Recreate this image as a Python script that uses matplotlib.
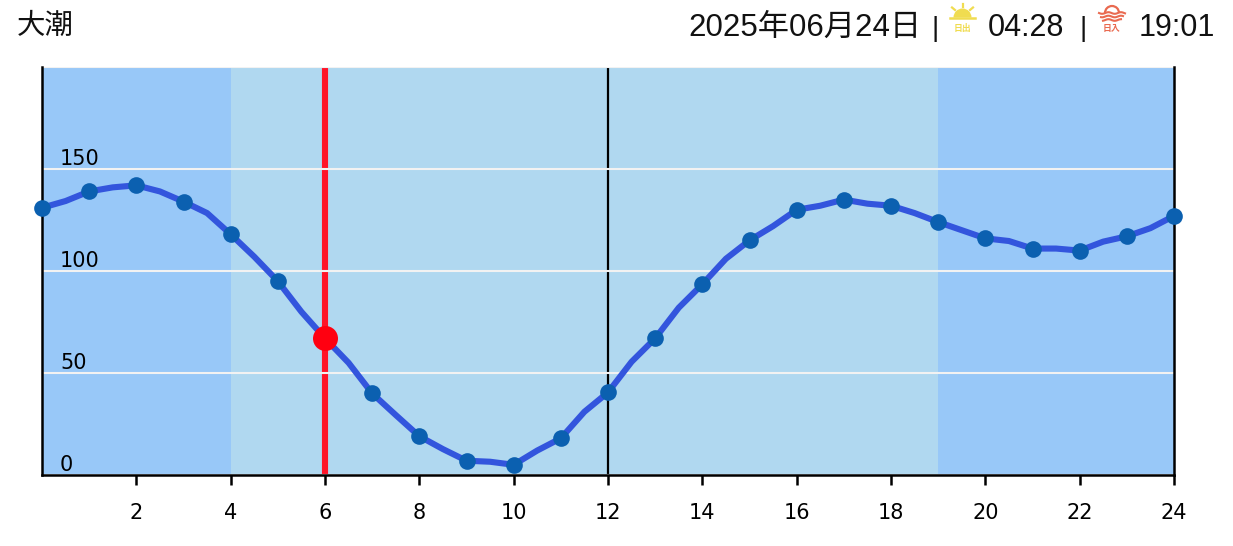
import numpy as np
import matplotlib
matplotlib.use("Agg")
import matplotlib.pyplot as plt
from matplotlib.patches import Wedge, Arc

W, H = 1233, 546
hours = [h / 2 for h in range(49)]
tide = [131, 134.3, 139, 141, 142, 139, 134, 128.4, 118, 107, 95, 80, 67, 55, 40, 29.4,
        19, 12.7, 7, 6.5, 5, 12, 18, 31, 40.5, 55.5, 67, 82, 93.5, 106, 115, 122,
        130, 132, 135, 133, 132, 128.4, 124, 120, 116, 114.7, 111, 111, 110, 114.4, 117, 121, 127]
marker_hours = list(range(25))
marker_vals = [131, 139, 142, 134, 118, 95, 67, 40, 19, 7, 5, 18, 40.5, 67, 93.5, 115, 130, 135, 132, 124, 116, 111, 110, 117, 127]
now_hour = 6
now_val = 67
noon = 12
day_start, day_end = 4, 19
x_ticks = list(range(2, 25, 2))
y_ticks = [0, 50, 100, 150, 200]
y_labels = ['0', '50', '100', '150', '']
title_left = '大潮'
date_text = '2025年06月24日'
sunrise_text = '04:28'
sunset_text = '19:01'

CJK = ['Liberation Sans', 'Noto Sans CJK JP', 'DejaVu Sans']
fig = plt.figure(figsize=(W / 100, H / 100), dpi=100, facecolor='white')
ax = fig.add_axes([42 / W, (H - 475) / H, 1132 / W, 408 / H])
ax.set_xlim(0, 24)
ax.set_ylim(0, 200)
ax.set_facecolor('#98C8F8')
ax.axvspan(day_start, day_end, color='#B0D8F0', lw=0, zorder=0.5)
ax.axvline(noon, color='black', lw=1.6, zorder=1)
ax.axvline(now_hour, color='#FF1428', lw=4.4, zorder=1.1)
ax.set_axisbelow('line')
ax.grid(axis='y', color='#F2F2F2', lw=1.5)
ax.plot(hours, tide, color='#3355DD', lw=4.4, zorder=3, solid_joinstyle='round', clip_on=False)
ax.plot(marker_hours, marker_vals, 'o', color='#0B60B0', ms=12, mew=0, zorder=4, clip_on=False)
ax.plot([now_hour], [now_val], 'o', color='#FF0010', ms=18, mew=0, zorder=5, clip_on=False)

ax.spines['top'].set_visible(False)
for s in ('left', 'right', 'bottom'):
    ax.spines[s].set_linewidth(1.8)
ax.set_xticks(x_ticks)
ax.set_xticklabels([str(t) for t in x_ticks], fontsize=15, family='DejaVu Sans')
ax.tick_params(axis='x', length=7, width=1.8, pad=13.5)
ax.set_yticks(y_ticks)
ax.set_yticklabels(y_labels, fontsize=15, family='DejaVu Sans')
ax.tick_params(axis='y', length=0, pad=-13)
for lb in ax.get_yticklabels():
    lb.set_ha('left')
    lb.set_va('bottom')

# header overlay in pixel coordinates
ov = fig.add_axes([0, 0, 1, 1], zorder=10)
ov.set_xlim(0, W)
ov.set_ylim(H, 0)
ov.axis('off')
ov.patch.set_alpha(0)
base = 36
ink = '#111111'
ov.text(17, 34, title_left, fontsize=20.5, family=['Noto Sans CJK JP'], color=ink, va='baseline')
ov.text(688, base, date_text, fontsize=22.5, family=CJK, color=ink, va='baseline')
ov.text(931, base, '|', fontsize=20.5, family=CJK, color=ink, va='baseline')
ov.text(988, base, sunrise_text, fontsize=22, family=CJK, color=ink, va='baseline')
ov.text(1079, base, '|', fontsize=20.5, family=CJK, color=ink, va='baseline')
ov.text(1139, base, sunset_text, fontsize=22, family=CJK, color=ink, va='baseline')

# sunrise icon
Y = '#F0DC50'
ov.add_patch(Wedge((962.5, 17.5), 9, 180, 360, fc=Y, ec='none'))
ov.plot([950, 975], [17.5, 17.5], color=Y, lw=1.8)
ov.plot([962.5, 962.5], [4, 7], color=Y, lw=1.6)
ov.plot([952, 955], [7.5, 10], color=Y, lw=1.6)
ov.plot([973, 970], [7.5, 10], color=Y, lw=1.6)
ov.text(962.5, 29, '日出', fontsize=6.4, family=['Noto Sans CJK JP'], color=Y, ha='center', va='center', weight='bold')

# sunset icon
R = '#E96A50'
ov.add_patch(Arc((1112, 13), 14, 14, theta1=180, theta2=360, ec=R, lw=1.6))
xw = np.linspace(1099, 1125, 40)
for y0, hw in ((13, 13), (16.5, 11), (20, 9)):
    xs = xw[np.abs(xw - 1112) <= hw]
    ov.plot(xs, y0 + 0.8 * np.sin((xs - 1099) * 0.5), color=R, lw=1.5)
ov.text(1112, 28.5, '日入', fontsize=6.4, family=['Noto Sans CJK JP'], color=R, ha='center', va='center', weight='bold')

fig.savefig('out.png', dpi=100)
